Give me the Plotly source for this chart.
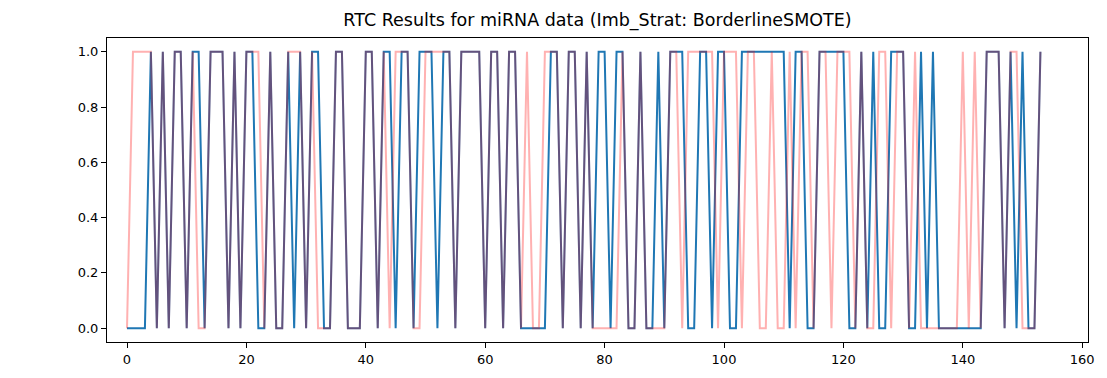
import plotly.graph_objects as go

# Sample positions along the test set
sample_idx = list(range(154))

# True class labels (drawn in solid blue)
y_true = [0, 0, 0, 0, 1, 0, 1, 0, 1, 1, 0, 1, 1, 0, 1, 1, 1, 0, 1, 0,
          1, 1, 0, 0, 1, 0, 0, 1, 0, 1, 0, 1, 1, 0, 0, 1, 1, 0, 0, 0,
          1, 1, 0, 1, 1, 0, 1, 1, 0, 1, 1, 1, 0, 1, 1, 0, 1, 1, 1, 1,
          0, 1, 1, 0, 1, 1, 0, 0, 0, 0, 0, 1, 1, 0, 1, 1, 0, 1, 0, 1,
          1, 0, 1, 1, 0, 0, 1, 0, 0, 1, 0, 1, 1, 1, 0, 0, 1, 1, 0, 1,
          1, 0, 0, 1, 1, 1, 1, 1, 1, 1, 1, 0, 1, 1, 0, 0, 1, 1, 1, 1,
          1, 0, 0, 1, 0, 1, 0, 0, 1, 1, 1, 0, 0, 1, 0, 1, 0, 0, 0, 0,
          0, 0, 0, 0, 1, 1, 1, 0, 1, 0, 1, 0, 0, 1]

# RTC predicted labels (drawn in translucent red on top)
y_pred = [0, 1, 1, 1, 1, 0, 1, 0, 1, 1, 0, 1, 0, 0, 1, 1, 1, 0, 1, 0,
          1, 1, 1, 0, 1, 0, 0, 1, 1, 1, 0, 1, 0, 0, 0, 1, 1, 0, 0, 0,
          1, 1, 0, 1, 0, 1, 1, 1, 0, 0, 1, 1, 1, 1, 1, 0, 1, 1, 1, 1,
          0, 1, 1, 0, 1, 1, 0, 1, 0, 0, 1, 1, 1, 0, 1, 1, 0, 1, 0, 0,
          0, 0, 0, 1, 0, 0, 1, 0, 0, 0, 0, 1, 1, 0, 1, 1, 1, 1, 1, 0,
          1, 1, 1, 0, 1, 1, 0, 0, 1, 0, 0, 1, 0, 1, 1, 0, 1, 1, 0, 1,
          1, 1, 0, 1, 0, 0, 1, 1, 0, 1, 1, 0, 1, 0, 0, 0, 0, 0, 0, 0,
          1, 0, 1, 0, 1, 1, 1, 0, 1, 1, 0, 0, 0, 1]

x_ticks = [0, 20, 40, 60, 80, 100, 120, 140, 160]
y_ticks = [0.0, 0.2, 0.4, 0.6, 0.8, 1.0]

fig = go.Figure()
fig.add_trace(go.Scatter(x=sample_idx, y=y_true, mode="lines",
                         line=dict(color="#1f77b4", width=2),
                         showlegend=False))
fig.add_trace(go.Scatter(x=sample_idx, y=y_pred, mode="lines",
                         line=dict(color="red", width=2), opacity=0.3,
                         showlegend=False))

axis_common = dict(showgrid=False, zeroline=False, showline=True,
                   linecolor="black", linewidth=1, mirror=True,
                   ticks="outside", ticklen=5, tickwidth=1,
                   tickcolor="black",
                   tickfont=dict(family="DejaVu Sans", size=13, color="black"))

fig.update_layout(
    width=1107, height=378,
    margin=dict(l=107, r=19, t=38, b=36),
    paper_bgcolor="white", plot_bgcolor="white",
    title=dict(text="RTC Results for miRNA data (Imb_Strat: BorderlineSMOTE)",
               x=0.5, xref="paper", xanchor="center",
               y=1 - 20 / 378, yanchor="middle",
               font=dict(family="DejaVu Sans", size=17.5, color="black")),
    xaxis=dict(range=[-3.35, 160.97], tickvals=x_ticks,
               ticktext=[str(v) for v in x_ticks], **axis_common),
    yaxis=dict(range=[-0.05, 1.05], tickvals=y_ticks,
               ticktext=[f"{v:.1f}" for v in y_ticks], **axis_common),
)

fig.write_html("out.html")
